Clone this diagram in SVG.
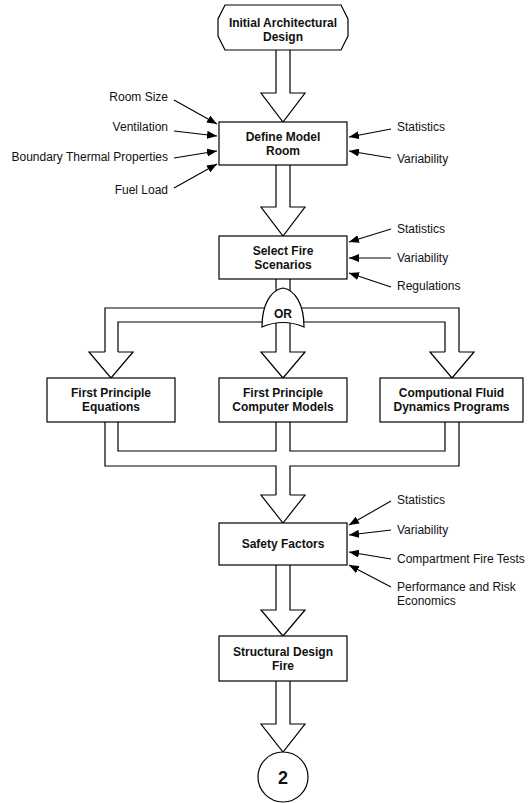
<svg xmlns="http://www.w3.org/2000/svg" width="529" height="803" viewBox="0 0 529 803">
  <defs>
    <style>
      .box { fill: #fff; stroke: #000; stroke-width: 1.2; }
      .blk { fill: #fff; stroke: #000; stroke-width: 1.2; stroke-linejoin: miter; }
      .pipe { fill: none; stroke: #000; stroke-width: 1.2; }
      .t { font-family: "Liberation Sans", Arial, sans-serif; font-size: 12px; font-weight: bold; fill: #111; text-anchor: middle; }
      .lbl { font-family: "Liberation Sans", Arial, sans-serif; font-size: 12px; fill: #111; }
      .lr { text-anchor: end; }
      .feed { stroke: #000; stroke-width: 1.1; fill: none; marker-end: url(#ah); }
    </style>
    <marker id="ah" viewBox="0 0 10 8" refX="10" refY="4" markerWidth="10" markerHeight="8" markerUnits="userSpaceOnUse" orient="auto">
      <path d="M0 0 L10 4 L0 8 Z" fill="#000"/>
    </marker>
  </defs>

  <!-- block arrows and flow pipes -->
  <g id="connectors">
    <path class="blk" d="M276 50 V93 H261 L283 122 L305 93 H290 V50"/>
    <path class="blk" d="M276 165 V207 H261 L283 236 L305 207 H290 V165"/>

    <!-- split after scenario selection -->
    <path class="pipe" d="M105 352 V308 H459 V352"/>
    <path class="pipe" d="M118 352 V322 H445 V352"/>
    <path class="blk" d="M276 279 V352 H261 L283 378 L305 352 H290 V279"/>
    <path class="blk" d="M105 352 H89 L111 378 L133 352 H118"/>
    <path class="blk" d="M445 352 H430 L452 378 L474 352 H459"/>

    <!-- merge into safety factors -->
    <path class="pipe" d="M105 422 V466 H276 V495"/>
    <path class="pipe" d="M290 495 V466 H459 V422"/>
    <path class="pipe" d="M118 422 V451 H276 V422"/>
    <path class="pipe" d="M290 422 V451 H445 V422"/>
    <path class="blk" d="M276 495 H261 L283 523 L305 495 H290"/>

    <path class="blk" d="M276 565 V610 H261 L283 636 L305 610 H290 V565"/>
    <path class="blk" d="M276 681 V724 H261 L283 752 L305 724 H290 V681"/>

    <!-- input arrows -->
    <line class="feed" x1="174" y1="100" x2="217" y2="124"/>
    <line class="feed" x1="174" y1="131" x2="217" y2="136"/>
    <line class="feed" x1="174" y1="158" x2="217" y2="151"/>
    <line class="feed" x1="174" y1="188" x2="217" y2="164"/>
    <line class="feed" x1="391" y1="129" x2="349" y2="137"/>
    <line class="feed" x1="391" y1="158" x2="349" y2="151"/>

    <line class="feed" x1="391" y1="229" x2="349" y2="242"/>
    <line class="feed" x1="391" y1="258" x2="349" y2="258"/>
    <line class="feed" x1="391" y1="287" x2="349" y2="273"/>

    <line class="feed" x1="391" y1="501" x2="349" y2="525"/>
    <line class="feed" x1="391" y1="530" x2="349" y2="535"/>
    <line class="feed" x1="391" y1="559" x2="349" y2="552"/>
    <line class="feed" x1="391" y1="587" x2="349" y2="565"/>
  </g>

  <g id="start">
    <polygon class="box" points="225,5 341,5 348,19 348,36 341,50 225,50 218,36 218,19"/>
    <text class="t" x="283" y="27">Initial Architectural</text>
    <text class="t" x="283" y="41">Design</text>
  </g>

  <g id="define-room">
    <rect class="box" x="219" y="122" width="128" height="43"/>
    <text class="t" x="283" y="141">Define Model</text>
    <text class="t" x="283" y="155">Room</text>
  </g>
  <g id="room-inputs">
    <text class="lbl lr" x="168" y="101">Room Size</text>
    <text class="lbl lr" x="168" y="131">Ventilation</text>
    <text class="lbl lr" x="168" y="161">Boundary Thermal Properties</text>
    <text class="lbl lr" x="168" y="194">Fuel Load</text>
    <text class="lbl" x="397" y="131">Statistics</text>
    <text class="lbl" x="397" y="163">Variability</text>
  </g>

  <g id="select-scenarios">
    <rect class="box" x="219" y="236" width="128" height="43"/>
    <text class="t" x="283" y="255">Select Fire</text>
    <text class="t" x="283" y="269">Scenarios</text>
  </g>
  <g id="scenario-inputs">
    <text class="lbl" x="397" y="233">Statistics</text>
    <text class="lbl" x="397" y="262">Variability</text>
    <text class="lbl" x="397" y="290">Regulations</text>
  </g>

  <g id="or-gate">
    <path class="box" d="M262 327 C262 304 271 290 283 288 C295 290 304 304 304 327 Q283 318 262 327 Z"/>
    <text class="t" x="283" y="318">OR</text>
  </g>

  <g id="equations">
    <rect class="box" x="47" y="378" width="128" height="44"/>
    <text class="t" x="111" y="397">First Principle</text>
    <text class="t" x="111" y="411">Equations</text>
  </g>
  <g id="computer-models">
    <rect class="box" x="219" y="378" width="128" height="44"/>
    <text class="t" x="283" y="397">First Principle</text>
    <text class="t" x="283" y="411">Computer Models</text>
  </g>
  <g id="cfd">
    <rect class="box" x="380" y="378" width="143" height="44"/>
    <text class="t" x="451.5" y="397">Computional Fluid</text>
    <text class="t" x="451.5" y="411">Dynamics Programs</text>
  </g>

  <g id="safety-factors">
    <rect class="box" x="219" y="523" width="128" height="42"/>
    <text class="t" x="283" y="548">Safety Factors</text>
  </g>
  <g id="safety-inputs">
    <text class="lbl" x="397" y="504">Statistics</text>
    <text class="lbl" x="397" y="534">Variability</text>
    <text class="lbl" x="397" y="563">Compartment Fire Tests</text>
    <text class="lbl" x="397" y="591">Performance and Risk</text>
    <text class="lbl" x="397" y="605">Economics</text>
  </g>

  <g id="design-fire">
    <rect class="box" x="219" y="636" width="128" height="45"/>
    <text class="t" x="283" y="656">Structural Design</text>
    <text class="t" x="283" y="670">Fire</text>
  </g>

  <g id="connector-2">
    <circle class="box" cx="283" cy="777" r="25"/>
    <text class="t" x="283" y="784" style="font-size:18px">2</text>
  </g>
</svg>
